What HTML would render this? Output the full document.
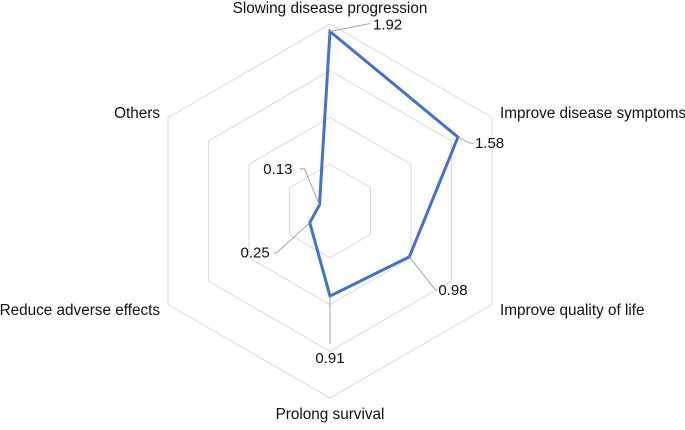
<!DOCTYPE html>
<html><head><meta charset="utf-8"><style>
html,body{margin:0;padding:0;background:#fff}
text{font-family:"Liberation Sans",Arial,sans-serif;fill:#111}
</style></head><body>
<svg id="chart" width="685" height="425" viewBox="0 0 685 425" xmlns="http://www.w3.org/2000/svg">
<g id="grid"></g>
<g id="labels"></g>
<g id="series"></g>
</svg>
<script>
const categories = ["Slowing disease progression","Improve disease symptoms","Improve quality of life","Prolong survival","Reduce adverse effects","Others"];
const values = [1.92,1.58,0.98,0.91,0.25,0.13];
const ringValues = [0.5,1,1.5,2];
const maxValue = 2;
const NS="http://www.w3.org/2000/svg";
const cx=330, cy=211, R=187;
function pt(i,v){const a=-Math.PI/2+i*Math.PI/3;const r=v/maxValue*R;return [cx+r*Math.cos(a),cy+r*Math.sin(a)];}
function mk(tag,attrs,parent){const e=document.createElementNS(NS,tag);for(const k in attrs)e.setAttribute(k,attrs[k]);parent.appendChild(e);return e;}
const grid=document.getElementById('grid');
ringValues.forEach((rv,j)=>{
  const p=categories.map((c,i)=>pt(i,rv).join(',')).join(' ');
  const e=mk('polygon',{points:p,fill:'none',stroke:'#d9d9d9','stroke-width':1},grid);
  
  
});
const lab=document.getElementById('labels');
const labPos=[[330,13,'middle'],[500,118,'start'],[500,315,'start'],[330,419,'middle'],[160,315,'end'],[160,118,'end']];
categories.forEach((c,i)=>{
  const t=mk('text',{x:labPos[i][0],y:labPos[i][1],'text-anchor':labPos[i][2],'font-size':15.3},lab);
  t.textContent=c;
  
  
});
const ser=document.getElementById('series');
const poly=mk('polygon',{points:values.map((v,i)=>pt(i,v).join(',')).join(' '),fill:'none',stroke:'#4472c4','stroke-width':3,'stroke-linejoin':'miter'},ser);


const lead=[[[40,-8]],[[12,6],[16,6]],[[26,33],[28,33]],[[0,48]],[[-33,30],[-36,30]],[[-15,-36],[-20,-36]]];
const txt=[[43,-2,'start'],[17,11,'start'],[29,38,'start'],[0,67,'middle'],[-40,35,'end'],[-27,-31,'end']];
values.forEach((v,i)=>{
  const [x,y]=pt(i,v);
  let d='M'+x+','+y;
  lead[i].forEach(o=>{d+=' L'+(x+o[0])+','+(y+o[1]);});
  const l=mk('path',{d:d,fill:'none',stroke:'#a6a6a6','stroke-width':1},ser);
  
  
  const t=mk('text',{x:x+txt[i][0],y:y+txt[i][1],'text-anchor':txt[i][2],'font-size':15},ser);
  t.textContent=v.toFixed(2);
  
  
});
</script>
</body></html>
